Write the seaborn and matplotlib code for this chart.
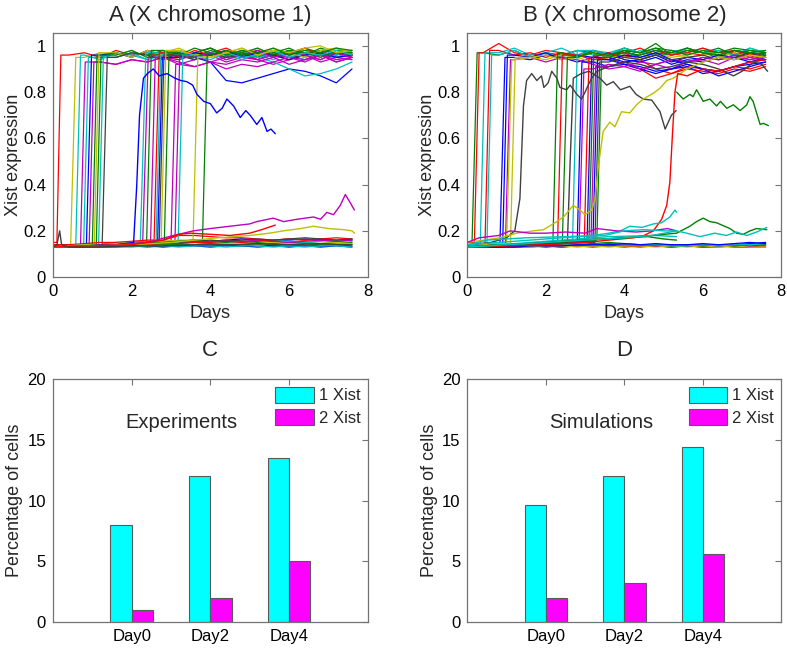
import matplotlib
matplotlib.use("Agg")
import matplotlib.pyplot as plt
import pandas as pd
import seaborn as sns

sns.set_theme(style="white")
plt.rcParams['font.family'] = ['Liberation Sans', 'DejaVu Sans']

# MATLAB default line colours
MCOL = {'b': (0, 0, 1), 'g': (0, 0.5, 0), 'r': (1, 0, 0), 'c': (0, 0.75, 0.75),
        'm': (0.75, 0, 0.75), 'y': (0.75, 0.75, 0), 'k': (0.25, 0.25, 0.25)}

# sampling days used for the read-off values
GRID = [0.0, 0.4, 0.8, 1.2, 1.6, 2.0, 2.4, 2.8, 3.2, 3.6, 4.0, 4.4, 4.8, 5.2, 5.6, 6.0, 6.4, 6.8, 7.2, 7.6]

# ---------------- Panel A : switching trajectories (colour, start of rise, end of rise, values on GRID)
A_SWITCH = [
    ('r', 0.10, 0.20, [0.15, 0.96, 0.97, 0.95, 0.98, 0.96, 0.97, 0.95, 0.98, 0.96, 0.97, 0.99, 0.96, 0.97, 0.95, 0.98, 0.96, 0.97, 0.95, 0.97]),
    ('y', 0.45, 0.58, [0.14, 0.14, 0.95, 0.97, 0.96, 0.98, 0.95, 0.97, 0.99, 0.96, 0.97, 0.95, 0.98, 0.96, 0.99, 0.97, 0.95, 0.98, 0.99, 0.96]),
    ('c', 0.58, 0.70, [0.14, 0.14, 0.96, 0.94, 0.97, 0.95, 0.98, 0.96, 0.94, 0.97, 0.99, 0.96, 0.95, 0.97, 0.96, 0.98, 0.95, 0.97, 0.96, 0.98]),
    ('m', 0.70, 0.82, [0.14, 0.14, 0.93, 0.93, 0.92, 0.94, 0.93, 0.95, 0.92, 0.94, 0.96, 0.93, 0.95, 0.94, 0.92, 0.94, 0.96, 0.93, 0.95, 0.94]),
    ('c', 0.78, 0.90, [0.14, 0.14, 0.95, 0.95, 0.97, 0.96, 0.94, 0.97, 0.98, 0.95, 0.97, 0.96, 0.98, 0.95, 0.97, 0.96, 0.94, 0.96, 0.97, 0.95]),
    ('b', 0.85, 0.98, [0.14, 0.14, 0.14, 0.96, 0.97, 0.95, 0.98, 0.96, 0.97, 0.95, 0.93, 0.85, 0.84, 0.86, 0.88, 0.90, 0.89, 0.87, 0.84, 0.90]),
    ('m', 0.92, 1.04, [0.14, 0.14, 0.14, 0.93, 0.92, 0.94, 0.93, 0.95, 0.96, 0.94, 0.97, 0.95, 0.96, 0.94, 0.97, 0.95, 0.96, 0.98, 0.95, 0.96]),
    ('g', 1.00, 1.12, [0.14, 0.14, 0.14, 0.96, 0.96, 0.98, 0.95, 0.97, 0.96, 0.99, 0.97, 0.95, 0.98, 0.96, 0.97, 0.99, 0.96, 0.98, 0.97, 0.98]),
    ('y', 1.05, 1.17, [0.14, 0.14, 0.14, 0.95, 0.97, 0.95, 0.98, 0.96, 0.94, 0.97, 0.95, 0.98, 0.96, 0.99, 0.96, 0.97, 0.98, 0.95, 0.99, 0.96]),
    ('g', 1.10, 1.22, [0.14, 0.14, 0.14, 0.96, 0.95, 0.97, 0.96, 0.98, 0.95, 0.97, 0.99, 0.96, 0.97, 0.95, 0.98, 0.96, 0.99, 0.97, 0.96, 0.98]),
    ('c', 1.16, 1.28, [0.14, 0.14, 0.14, 0.94, 0.95, 0.97, 0.94, 0.96, 0.98, 0.95, 0.97, 0.94, 0.96, 0.95, 0.93, 0.90, 0.87, 0.88, 0.90, 0.93]),
    ('k', 1.25, 1.38, [0.14, 0.14, 0.14, 0.14, 0.95, 0.97, 0.96, 0.94, 0.97, 0.95, 0.96, 0.98, 0.95, 0.97, 0.96, 0.94, 0.97, 0.96, 0.95, 0.97]),
    ('c', 2.22, 2.36, [0.13, 0.135, 0.14, 0.14, 0.145, 0.15, 0.95, 0.97, 0.96, 0.94, 0.97, 0.95, 0.98, 0.96, 0.94, 0.97, 0.95, 0.97, 0.96, 0.98]),
    ('m', 2.28, 2.42, [0.13, 0.13, 0.135, 0.14, 0.14, 0.15, 0.93, 0.95, 0.93, 0.91, 0.93, 0.92, 0.94, 0.93, 0.95, 0.92, 0.94, 0.96, 0.93, 0.95]),
    ('g', 2.38, 2.50, [0.13, 0.135, 0.14, 0.14, 0.15, 0.15, 0.96, 0.98, 0.95, 0.97, 0.99, 0.96, 0.98, 0.97, 0.95, 0.98, 0.96, 0.99, 0.97, 0.96]),
    ('m', 2.48, 2.60, [0.13, 0.13, 0.14, 0.14, 0.14, 0.15, 0.15, 0.95, 0.94, 0.96, 0.93, 0.95, 0.97, 0.94, 0.96, 0.95, 0.93, 0.96, 0.94, 0.95]),
    ('r', 2.57, 2.70, [0.14, 0.14, 0.145, 0.15, 0.15, 0.155, 0.16, 0.97, 0.95, 0.98, 0.96, 0.97, 0.95, 0.98, 0.96, 0.97, 0.99, 0.96, 0.97, 0.95]),
    ('c', 2.62, 2.74, [0.13, 0.135, 0.14, 0.14, 0.145, 0.15, 0.15, 0.96, 0.98, 0.95, 0.97, 0.96, 0.94, 0.97, 0.95, 0.98, 0.96, 0.97, 0.95, 0.97]),
    ('b', 2.66, 2.78, [0.13, 0.13, 0.135, 0.14, 0.14, 0.145, 0.15, 0.97, 0.95, 0.97, 0.96, 0.98, 0.95, 0.97, 0.96, 0.94, 0.96, 0.97, 0.95, 0.96]),
    ('k', 2.70, 2.82, [0.13, 0.13, 0.13, 0.135, 0.14, 0.14, 0.145, 0.95, 0.96, 0.94, 0.97, 0.95, 0.96, 0.98, 0.95, 0.97, 0.96, 0.94, 0.97, 0.96]),
    ('y', 2.75, 2.87, [0.13, 0.135, 0.14, 0.14, 0.14, 0.145, 0.15, 0.96, 0.98, 0.96, 0.95, 0.97, 0.99, 0.96, 0.98, 0.97, 0.95, 0.98, 0.99, 0.97]),
    ('g', 2.83, 2.95, [0.13, 0.13, 0.14, 0.14, 0.145, 0.15, 0.15, 0.155, 0.97, 0.95, 0.98, 0.96, 0.97, 0.99, 0.96, 0.98, 0.97, 0.95, 0.98, 0.97]),
    ('m', 3.00, 3.12, [0.13, 0.13, 0.135, 0.14, 0.14, 0.145, 0.15, 0.15, 0.92, 0.91, 0.93, 0.90, 0.92, 0.91, 0.93, 0.95, 0.94, 0.96, 0.93, 0.95]),
    ('m', 3.10, 3.22, [0.13, 0.135, 0.14, 0.14, 0.145, 0.15, 0.15, 0.155, 0.16, 0.95, 0.97, 0.94, 0.96, 0.98, 0.95, 0.97, 0.96, 0.94, 0.97, 0.95]),
    ('c', 3.18, 3.30, [0.13, 0.13, 0.14, 0.14, 0.14, 0.145, 0.15, 0.15, 0.155, 0.96, 0.94, 0.97, 0.95, 0.96, 0.98, 0.95, 0.97, 0.96, 0.98, 0.96]),
    ('y', 3.56, 3.68, [0.13, 0.135, 0.14, 0.14, 0.145, 0.15, 0.15, 0.155, 0.16, 0.16, 0.95, 0.97, 0.99, 0.96, 0.98, 0.97, 0.99, 1.00, 0.97, 0.98]),
    ('g', 3.80, 3.92, [0.13, 0.13, 0.135, 0.14, 0.14, 0.145, 0.15, 0.15, 0.155, 0.16, 0.96, 0.98, 0.96, 0.97, 0.99, 0.96, 0.98, 0.97, 0.99, 0.98]),
]

# Panel A : trajectories read point by point (colour, days, values)
A_FREE = [
    ('b', [0, 0.8, 1.6, 2.05, 2.13, 2.2, 2.3, 2.4, 2.55, 2.7, 2.9, 3.1, 3.25, 3.4, 3.55, 3.66, 3.83, 4.0, 4.16, 4.3, 4.42, 4.59, 4.76, 4.9, 5.01, 5.18, 5.31, 5.44, 5.54, 5.65],
          [0.13, 0.135, 0.14, 0.15, 0.40, 0.70, 0.86, 0.88, 0.90, 0.87, 0.88, 0.86, 0.85, 0.845, 0.83, 0.79, 0.76, 0.75, 0.71, 0.73, 0.77, 0.74, 0.69, 0.72, 0.70, 0.66, 0.69, 0.63, 0.64, 0.62]),
    ('m', [0, 0.8, 1.6, 2.4, 3.06, 3.57, 4.0, 4.5, 5.0, 5.18, 5.6, 5.86, 6.2, 6.62, 6.8, 6.96, 7.13, 7.3, 7.43, 7.56, 7.66],
          [0.13, 0.135, 0.14, 0.15, 0.18, 0.20, 0.21, 0.22, 0.23, 0.24, 0.255, 0.24, 0.25, 0.26, 0.25, 0.28, 0.27, 0.31, 0.357, 0.32, 0.29]),
    ('y', [0, 1.0, 2.0, 3.0, 3.6, 4.2, 5.0, 5.5, 5.85, 6.3, 6.62, 7.0, 7.4, 7.6, 7.66],
          [0.13, 0.135, 0.14, 0.15, 0.16, 0.17, 0.18, 0.19, 0.20, 0.21, 0.22, 0.21, 0.205, 0.20, 0.19]),
    ('r', [0, 1.0, 2.0, 2.8, 3.2, 3.5, 4.0, 4.5, 5.0, 5.3, 5.65],
          [0.13, 0.135, 0.14, 0.16, 0.185, 0.19, 0.185, 0.18, 0.19, 0.205, 0.225]),
    ('k', [0, 0.1, 0.17, 0.22, 0.4, 1.2, 2.0, 2.8, 3.6, 4.4, 5.2, 6.0, 6.8, 7.6],
          [0.13, 0.14, 0.20, 0.14, 0.13, 0.13, 0.135, 0.135, 0.14, 0.14, 0.145, 0.14, 0.145, 0.14]),
]

# Panel A : non-switching trajectories on GRID
A_BASE = [
    ('r', [0.13, 0.13, 0.135, 0.14, 0.14, 0.145, 0.15, 0.16, 0.18, 0.18, 0.175, 0.17, 0.17, 0.165, 0.16, 0.165, 0.16, 0.165, 0.16, 0.165]),
    ('b', [0.13, 0.13, 0.135, 0.14, 0.14, 0.145, 0.15, 0.15, 0.155, 0.16, 0.155, 0.16, 0.165, 0.16, 0.155, 0.16, 0.165, 0.16, 0.155, 0.16]),
    ('g', [0.13, 0.13, 0.13, 0.135, 0.135, 0.14, 0.14, 0.145, 0.15, 0.15, 0.145, 0.15, 0.155, 0.15, 0.145, 0.15, 0.15, 0.145, 0.15, 0.15]),
    ('c', [0.13, 0.13, 0.135, 0.135, 0.14, 0.14, 0.145, 0.145, 0.15, 0.155, 0.15, 0.155, 0.15, 0.155, 0.16, 0.155, 0.15, 0.155, 0.16, 0.155]),
    ('k', [0.13, 0.13, 0.13, 0.13, 0.135, 0.135, 0.13, 0.135, 0.135, 0.14, 0.135, 0.14, 0.135, 0.14, 0.135, 0.135, 0.14, 0.135, 0.14, 0.135]),
    ('y', [0.13, 0.13, 0.13, 0.135, 0.135, 0.14, 0.14, 0.14, 0.145, 0.14, 0.145, 0.145, 0.14, 0.145, 0.15, 0.145, 0.14, 0.145, 0.15, 0.145]),
    ('m', [0.13, 0.13, 0.135, 0.14, 0.14, 0.145, 0.15, 0.15, 0.155, 0.15, 0.155, 0.16, 0.155, 0.16, 0.155, 0.15, 0.155, 0.16, 0.155, 0.16]),
    ('b', [0.13, 0.13, 0.13, 0.13, 0.13, 0.135, 0.135, 0.13, 0.135, 0.135, 0.13, 0.135, 0.135, 0.13, 0.135, 0.13, 0.135, 0.13, 0.135, 0.13]),
    ('r', [0.13, 0.13, 0.13, 0.135, 0.135, 0.14, 0.14, 0.145, 0.145, 0.15, 0.15, 0.155, 0.15, 0.155, 0.16, 0.165, 0.16, 0.165, 0.17, 0.165]),
    ('k', [0.13, 0.13, 0.135, 0.135, 0.14, 0.14, 0.145, 0.15, 0.15, 0.155, 0.16, 0.155, 0.16, 0.165, 0.16, 0.165, 0.17, 0.165, 0.16, 0.165]),
    ('g', [0.13, 0.13, 0.13, 0.13, 0.135, 0.135, 0.135, 0.14, 0.14, 0.14, 0.145, 0.14, 0.14, 0.145, 0.14, 0.14, 0.145, 0.14, 0.14, 0.14]),
    ('c', [0.13, 0.13, 0.13, 0.13, 0.13, 0.13, 0.135, 0.135, 0.13, 0.135, 0.135, 0.13, 0.135, 0.135, 0.13, 0.135, 0.13, 0.135, 0.135, 0.13]),
]

# ---------------- Panel B
B_SWITCH = [
    ('g', 0.12, 0.25, [0.15, 0.97, 0.96, 0.98, 0.95, 0.97, 0.96, 0.98, 0.97, 0.95, 0.98, 0.97, 0.99, 0.96, 0.98, 0.97, 0.95, 0.98, 0.97, 0.96]),
    ('r', 0.18, 0.30, [0.15, 0.97, 1.01, 0.97, 0.96, 0.98, 0.97, 0.95, 0.98, 0.96, 0.97, 0.99, 0.96, 0.98, 0.97, 0.96, 0.98, 0.97, 0.95, 0.97]),
    ('c', 0.33, 0.45, [0.14, 0.14, 0.97, 0.99, 0.96, 0.97, 0.95, 0.98, 0.96, 0.97, 0.99, 0.97, 0.96, 0.98, 0.97, 0.99, 0.96, 0.98, 0.97, 0.98]),
    ('r', 0.45, 0.57, [0.14, 0.14, 0.98, 0.96, 0.97, 0.95, 0.97, 0.96, 0.98, 0.96, 0.97, 0.94, 0.90, 0.88, 0.91, 0.90, 0.89, 0.91, 0.90, 0.92]),
    ('c', 0.50, 0.62, [0.14, 0.14, 0.96, 0.98, 0.95, 0.97, 0.99, 0.96, 0.98, 0.97, 0.95, 0.98, 0.96, 0.97, 0.99, 0.97, 0.98, 0.96, 0.99, 0.97]),
    ('b', 0.83, 0.96, [0.14, 0.14, 0.14, 0.95, 0.94, 0.96, 0.95, 0.93, 0.95, 0.94, 0.92, 0.91, 0.89, 0.90, 0.91, 0.88, 0.89, 0.91, 0.92, 0.93]),
    ('b', 0.90, 1.02, [0.14, 0.14, 0.14, 0.96, 0.95, 0.97, 0.94, 0.96, 0.95, 0.97, 0.94, 0.93, 0.95, 0.92, 0.94, 0.93, 0.95, 0.94, 0.96, 0.95]),
    ('m', 0.97, 1.10, [0.14, 0.14, 0.14, 0.94, 0.95, 0.93, 0.95, 0.94, 0.92, 0.90, 0.91, 0.89, 0.92, 0.90, 0.93, 0.94, 0.92, 0.95, 0.94, 0.96]),
    ('y', 1.00, 1.13, [0.14, 0.14, 0.145, 0.94, 0.95, 0.96, 0.94, 0.95, 0.97, 0.95, 0.96, 0.94, 0.97, 0.95, 0.96, 0.98, 0.95, 0.97, 0.96, 0.95]),
    ('y', 1.10, 1.22, [0.14, 0.14, 0.145, 0.15, 0.95, 0.94, 0.96, 0.95, 0.93, 0.95, 0.96, 0.94, 0.96, 0.97, 0.95, 0.96, 0.98, 0.96, 0.97, 0.95]),
    ('g', 2.18, 2.30, [0.13, 0.135, 0.14, 0.14, 0.145, 0.15, 0.97, 0.95, 0.98, 0.96, 0.99, 0.97, 1.01, 0.96, 0.98, 0.97, 0.99, 0.96, 0.98, 0.97]),
    ('r', 2.30, 2.42, [0.13, 0.135, 0.14, 0.14, 0.145, 0.15, 0.15, 0.96, 0.94, 0.95, 0.92, 0.90, 0.86, 0.88, 0.90, 0.89, 0.88, 0.90, 0.89, 0.91]),
    ('g', 2.42, 2.55, [0.13, 0.13, 0.135, 0.14, 0.14, 0.145, 0.15, 0.95, 0.97, 0.96, 0.98, 0.95, 0.97, 0.96, 0.99, 0.97, 0.96, 0.98, 0.97, 0.96]),
    ('c', 2.68, 2.80, [0.13, 0.13, 0.14, 0.14, 0.145, 0.15, 0.15, 0.155, 0.98, 0.96, 0.99, 0.97, 0.98, 0.96, 0.99, 0.97, 0.98, 0.96, 0.99, 0.97]),
    ('b', 2.80, 2.92, [0.13, 0.13, 0.135, 0.14, 0.14, 0.145, 0.15, 0.15, 0.93, 0.91, 0.92, 0.90, 0.88, 0.90, 0.92, 0.90, 0.87, 0.89, 0.91, 0.93]),
    ('m', 2.85, 2.97, [0.13, 0.135, 0.14, 0.14, 0.145, 0.15, 0.15, 0.155, 0.90, 0.92, 0.91, 0.93, 0.92, 0.94, 0.93, 0.95, 0.94, 0.96, 0.95, 0.94]),
    ('r', 2.98, 3.10, [0.13, 0.13, 0.135, 0.14, 0.14, 0.145, 0.15, 0.155, 0.95, 0.97, 0.95, 0.96, 0.98, 0.96, 0.97, 0.99, 0.97, 0.98, 0.96, 0.97]),
    ('b', 3.05, 3.17, [0.13, 0.13, 0.135, 0.14, 0.14, 0.145, 0.15, 0.155, 0.16, 0.95, 0.93, 0.94, 0.96, 0.93, 0.95, 0.94, 0.96, 0.95, 0.93, 0.95]),
    ('g', 3.10, 3.22, [0.13, 0.135, 0.14, 0.14, 0.145, 0.15, 0.155, 0.16, 0.16, 0.96, 0.98, 0.97, 0.99, 0.98, 0.96, 0.98, 0.97, 0.99, 0.98, 0.97]),
    ('m', 3.15, 3.27, [0.13, 0.13, 0.135, 0.14, 0.145, 0.15, 0.15, 0.155, 0.16, 0.91, 0.93, 0.90, 0.92, 0.94, 0.93, 0.95, 0.94, 0.96, 0.94, 0.95]),
    ('b', 3.20, 3.32, [0.13, 0.13, 0.13, 0.135, 0.14, 0.14, 0.145, 0.15, 0.155, 0.94, 0.96, 0.95, 0.97, 0.94, 0.92, 0.90, 0.89, 0.91, 0.93, 0.94]),
    ('k', 3.25, 3.37, [0.13, 0.13, 0.135, 0.14, 0.14, 0.145, 0.15, 0.15, 0.16, 0.93, 0.95, 0.94, 0.96, 0.94, 0.95, 0.96, 0.94, 0.95, 0.97, 0.95]),
    ('g', 3.30, 3.42, [0.13, 0.13, 0.135, 0.14, 0.145, 0.15, 0.15, 0.155, 0.16, 0.95, 0.97, 0.96, 0.98, 0.97, 0.99, 0.97, 0.96, 0.98, 0.97, 0.98]),
]

B_FREE = [
    ('k', [0, 0.6, 1.0, 1.21, 1.34, 1.43, 1.51, 1.64, 1.77, 1.89, 1.95, 2.06, 2.15, 2.28, 2.36, 2.53, 2.62, 2.79, 2.91, 3.0, 3.08, 3.17, 3.3, 3.6, 4.0, 4.4, 4.8, 5.2, 5.6, 6.0, 6.4, 6.78, 7.0, 7.3, 7.5, 7.65],
          [0.14, 0.15, 0.17, 0.20, 0.34, 0.74, 0.85, 0.88, 0.85, 0.87, 0.82, 0.84, 0.89, 0.86, 0.82, 0.81, 0.83, 0.79, 0.77, 0.80, 0.83, 0.86, 0.89, 0.91, 0.93, 0.92, 0.90, 0.91, 0.93, 0.92, 0.90, 0.87, 0.89, 0.93, 0.92, 0.89]),
    ('k', [0, 0.8, 1.6, 2.4, 2.55, 2.62, 2.7, 2.9, 3.1, 3.38, 3.55, 3.72, 3.9, 4.14, 4.3, 4.48, 4.7, 4.91, 5.04, 5.12, 5.2, 5.32],
          [0.13, 0.135, 0.14, 0.145, 0.15, 0.50, 0.86, 0.88, 0.89, 0.86, 0.83, 0.845, 0.81, 0.825, 0.79, 0.77, 0.765, 0.715, 0.64, 0.67, 0.70, 0.72]),
    ('y', [0, 0.83, 1.26, 1.68, 1.94, 2.28, 2.45, 2.7, 2.87, 3.0, 3.17, 3.25, 3.34, 3.46, 3.63, 3.76, 3.93, 4.14, 4.31, 4.48, 4.74, 4.91, 5.08, 5.25, 5.6, 6.0, 6.4, 6.8, 7.2, 7.6],
          [0.15, 0.17, 0.19, 0.20, 0.205, 0.24, 0.26, 0.31, 0.29, 0.27, 0.29, 0.335, 0.48, 0.63, 0.67, 0.65, 0.715, 0.71, 0.745, 0.77, 0.795, 0.817, 0.85, 0.86, 0.90, 0.93, 0.95, 0.94, 0.96, 0.95]),
    ('r', [0, 1.0, 2.0, 3.0, 3.6, 4.23, 4.5, 4.74, 4.95, 5.08, 5.16, 5.23, 5.29, 5.36, 5.6, 6.0, 6.4, 6.8, 7.2, 7.6],
          [0.13, 0.135, 0.14, 0.15, 0.16, 0.17, 0.18, 0.20, 0.25, 0.31, 0.41, 0.63, 0.80, 0.88, 0.87, 0.90, 0.89, 0.91, 0.93, 0.94]),
    ('g', [5.33, 5.5, 5.67, 5.75, 5.84, 6.01, 6.18, 6.35, 6.45, 6.61, 6.78, 6.95, 7.12, 7.2, 7.28, 7.37, 7.46, 7.54, 7.67],
          [0.80, 0.77, 0.79, 0.78, 0.81, 0.76, 0.77, 0.74, 0.76, 0.73, 0.745, 0.72, 0.745, 0.78, 0.76, 0.71, 0.66, 0.665, 0.655]),
    ('c', [0, 0.8, 1.6, 2.4, 3.2, 3.6, 3.9, 4.14, 4.45, 4.74, 4.95, 5.16, 5.29, 5.33],
          [0.14, 0.15, 0.16, 0.17, 0.18, 0.19, 0.20, 0.22, 0.215, 0.23, 0.235, 0.26, 0.29, 0.28]),
    ('m', [0, 0.3, 0.8, 1.09, 1.6, 2.0, 2.5, 3.0, 3.3, 3.8, 4.3, 4.7, 5.1, 5.33],
          [0.15, 0.17, 0.18, 0.20, 0.19, 0.19, 0.195, 0.19, 0.21, 0.20, 0.195, 0.20, 0.21, 0.20]),
    ('c', [0, 0.5, 1.5, 2.5, 3.5, 4.0, 4.5, 5.0, 5.33],
          [0.14, 0.16, 0.17, 0.175, 0.18, 0.20, 0.205, 0.20, 0.20]),
    ('g', [0, 1.0, 2.0, 3.0, 4.0, 4.6, 5.0, 5.33],
          [0.13, 0.14, 0.15, 0.16, 0.17, 0.175, 0.165, 0.16]),
    ('c', [0, 1.2, 2.4, 3.6, 4.8, 5.33],
          [0.13, 0.145, 0.16, 0.175, 0.18, 0.175]),
    ('g', [0, 1.0, 2.0, 3.0, 4.0, 4.7, 5.33, 5.67, 5.84, 6.01, 6.18, 6.35, 6.69, 6.86, 7.03, 7.2, 7.37, 7.63],
          [0.13, 0.14, 0.15, 0.16, 0.17, 0.18, 0.19, 0.22, 0.24, 0.255, 0.24, 0.235, 0.21, 0.19, 0.185, 0.20, 0.21, 0.205]),
    ('c', [0, 1.0, 2.0, 3.0, 4.0, 4.7, 5.33, 5.59, 5.93, 6.3, 6.6, 6.86, 7.12, 7.37, 7.63],
          [0.13, 0.14, 0.15, 0.16, 0.17, 0.18, 0.20, 0.19, 0.175, 0.19, 0.18, 0.195, 0.18, 0.195, 0.215]),
]

B_BASE = [
    ('b', [0.13, 0.13, 0.13, 0.135, 0.135, 0.13, 0.135, 0.135, 0.14, 0.135, 0.14, 0.135, 0.14, 0.135, 0.14, 0.14, 0.135, 0.14, 0.145, 0.15]),
    ('k', [0.13, 0.13, 0.13, 0.13, 0.13, 0.135, 0.13, 0.135, 0.13, 0.135, 0.13, 0.135, 0.135, 0.13, 0.135, 0.13, 0.135, 0.13, 0.13, 0.135]),
    ('r', [0.13, 0.13, 0.135, 0.13, 0.135, 0.135, 0.13, 0.135, 0.135, 0.14, 0.135, 0.13, 0.135, 0.13, 0.135, 0.13, 0.13, 0.135, 0.13, 0.13]),
    ('y', [0.13, 0.13, 0.13, 0.135, 0.13, 0.135, 0.135, 0.13, 0.135, 0.13, 0.135, 0.135, 0.13, 0.135, 0.13, 0.135, 0.13, 0.135, 0.13, 0.13]),
    ('m', [0.13, 0.135, 0.14, 0.14, 0.145, 0.14, 0.145, 0.14, 0.14, 0.145, 0.14, 0.14, 0.135, 0.14, 0.135, 0.14, 0.135, 0.14, 0.135, 0.14]),
    ('g', [0.13, 0.135, 0.135, 0.14, 0.14, 0.145, 0.145, 0.15, 0.145, 0.15, 0.145, 0.14, 0.14, 0.135, 0.14, 0.135, 0.14, 0.135, 0.14, 0.14]),
    ('c', [0.13, 0.13, 0.135, 0.135, 0.14, 0.14, 0.14, 0.145, 0.14, 0.14, 0.145, 0.14, 0.14, 0.135, 0.135, 0.14, 0.135, 0.14, 0.14, 0.145]),
    ('b', [0.13, 0.13, 0.13, 0.13, 0.135, 0.135, 0.135, 0.14, 0.14, 0.14, 0.145, 0.14, 0.145, 0.14, 0.14, 0.145, 0.14, 0.145, 0.15, 0.145]),
]

# ---------------- Panels C and D
DAYS = ['Day0', 'Day2', 'Day4']
EXP_ONE = [8.0, 12.0, 13.5]
EXP_TWO = [1.0, 2.0, 5.0]
SIM_ONE = [9.6, 12.0, 14.4]
SIM_TWO = [2.0, 3.2, 5.6]
KINDS = ['1 Xist', '2 Xist']

SPINE = '0.45'


def switch_points(t0, t1, vals):
    ts, vs = [], []
    base = vals[0]
    for g, v in zip(GRID, vals):
        if g < t0 - 0.05:
            ts.append(g); vs.append(v); base = v
    plateau = None
    rest_t, rest_v = [], []
    for g, v in zip(GRID, vals):
        if g > t1 + 0.05:
            if plateau is None:
                plateau = v
            rest_t.append(g); rest_v.append(v)
    ts += [t0, t1] + rest_t
    vs += [base, plateau] + rest_v
    return ts, vs


def style_axes(ax):
    for s in ax.spines.values():
        s.set_color(SPINE)
        s.set_linewidth(0.9)
    ax.tick_params(direction='in', length=4, width=0.8, color=SPINE,
                   top=True, right=True, labelsize=12, pad=5, labelcolor='black')


def draw_traj(ax, switch, free, base, title):
    for col, vals in base:
        sns.lineplot(x=GRID, y=vals, color=MCOL[col], lw=0.9, ax=ax,
                     estimator=None, sort=False, legend=False)
    for col, t0, t1, vals in switch:
        ts, vs = switch_points(t0, t1, vals)
        sns.lineplot(x=ts, y=vs, color=MCOL[col], lw=0.9, ax=ax,
                     estimator=None, sort=False, legend=False)
    for col, ts, vs in free:
        sns.lineplot(x=ts, y=vs, color=MCOL[col], lw=1.0, ax=ax,
                     estimator=None, sort=False, legend=False)
    ax.set_xlim(0, 8)
    ax.set_ylim(0, 1.055)
    ax.set_xticks([0, 2, 4, 6, 8])
    ax.set_yticks([0, 0.2, 0.4, 0.6, 0.8, 1.0])
    ax.set_yticklabels(['0', '0.2', '0.4', '0.6', '0.8', '1'])
    ax.set_xlabel('Days', fontsize=13, labelpad=4)
    ax.set_ylabel('Xist expression', fontsize=13, labelpad=1)
    ax.set_title(title, fontsize=16, pad=9)
    style_axes(ax)


def draw_bars(ax, one, two, label, lx, title):
    df = pd.DataFrame({'day': DAYS + DAYS,
                       'pct': one + two,
                       'kind': [KINDS[0]] * 3 + [KINDS[1]] * 3})
    sns.barplot(data=df, x='day', y='pct', hue='kind', palette=['#00FFFF', '#FF00FF'],
                saturation=1, width=0.54, edgecolor='0.35', linewidth=0.8, ax=ax)
    ax.set_xlim(-1, 3)
    ax.set_ylim(0, 20)
    ax.set_yticks([0, 5, 10, 15, 20])
    ax.set_xlabel('')
    ax.set_ylabel('Percentage of cells', fontsize=13, labelpad=3)
    ax.set_title(title, fontsize=16, pad=17)
    ax.text(lx, 16.4, label, ha='center', va='center', fontsize=14.5)
    ax.legend(loc='upper right', frameon=False, fontsize=12, handlelength=2.3,
              handleheight=1.1, handletextpad=0.3, labelspacing=0.35,
              borderaxespad=0.25, borderpad=0.2)
    style_axes(ax)


fig = plt.figure(figsize=(7.87, 6.49), dpi=100)
axA = fig.add_axes([0.0673, 0.573, 0.400, 0.376])
axB = fig.add_axes([0.5938, 0.573, 0.399, 0.376])
axC = fig.add_axes([0.0673, 0.0416, 0.400, 0.374])
axD = fig.add_axes([0.5938, 0.0416, 0.399, 0.374])

draw_traj(axA, A_SWITCH, A_FREE, A_BASE, 'A (X chromosome 1)')
draw_traj(axB, B_SWITCH, B_FREE, B_BASE, 'B (X chromosome 2)')
draw_bars(axC, EXP_ONE, EXP_TWO, 'Experiments', 0.63, 'C')
draw_bars(axD, SIM_ONE, SIM_TWO, 'Simulations', 0.70, 'D')

fig.savefig('out.png', dpi=100, facecolor='white')
